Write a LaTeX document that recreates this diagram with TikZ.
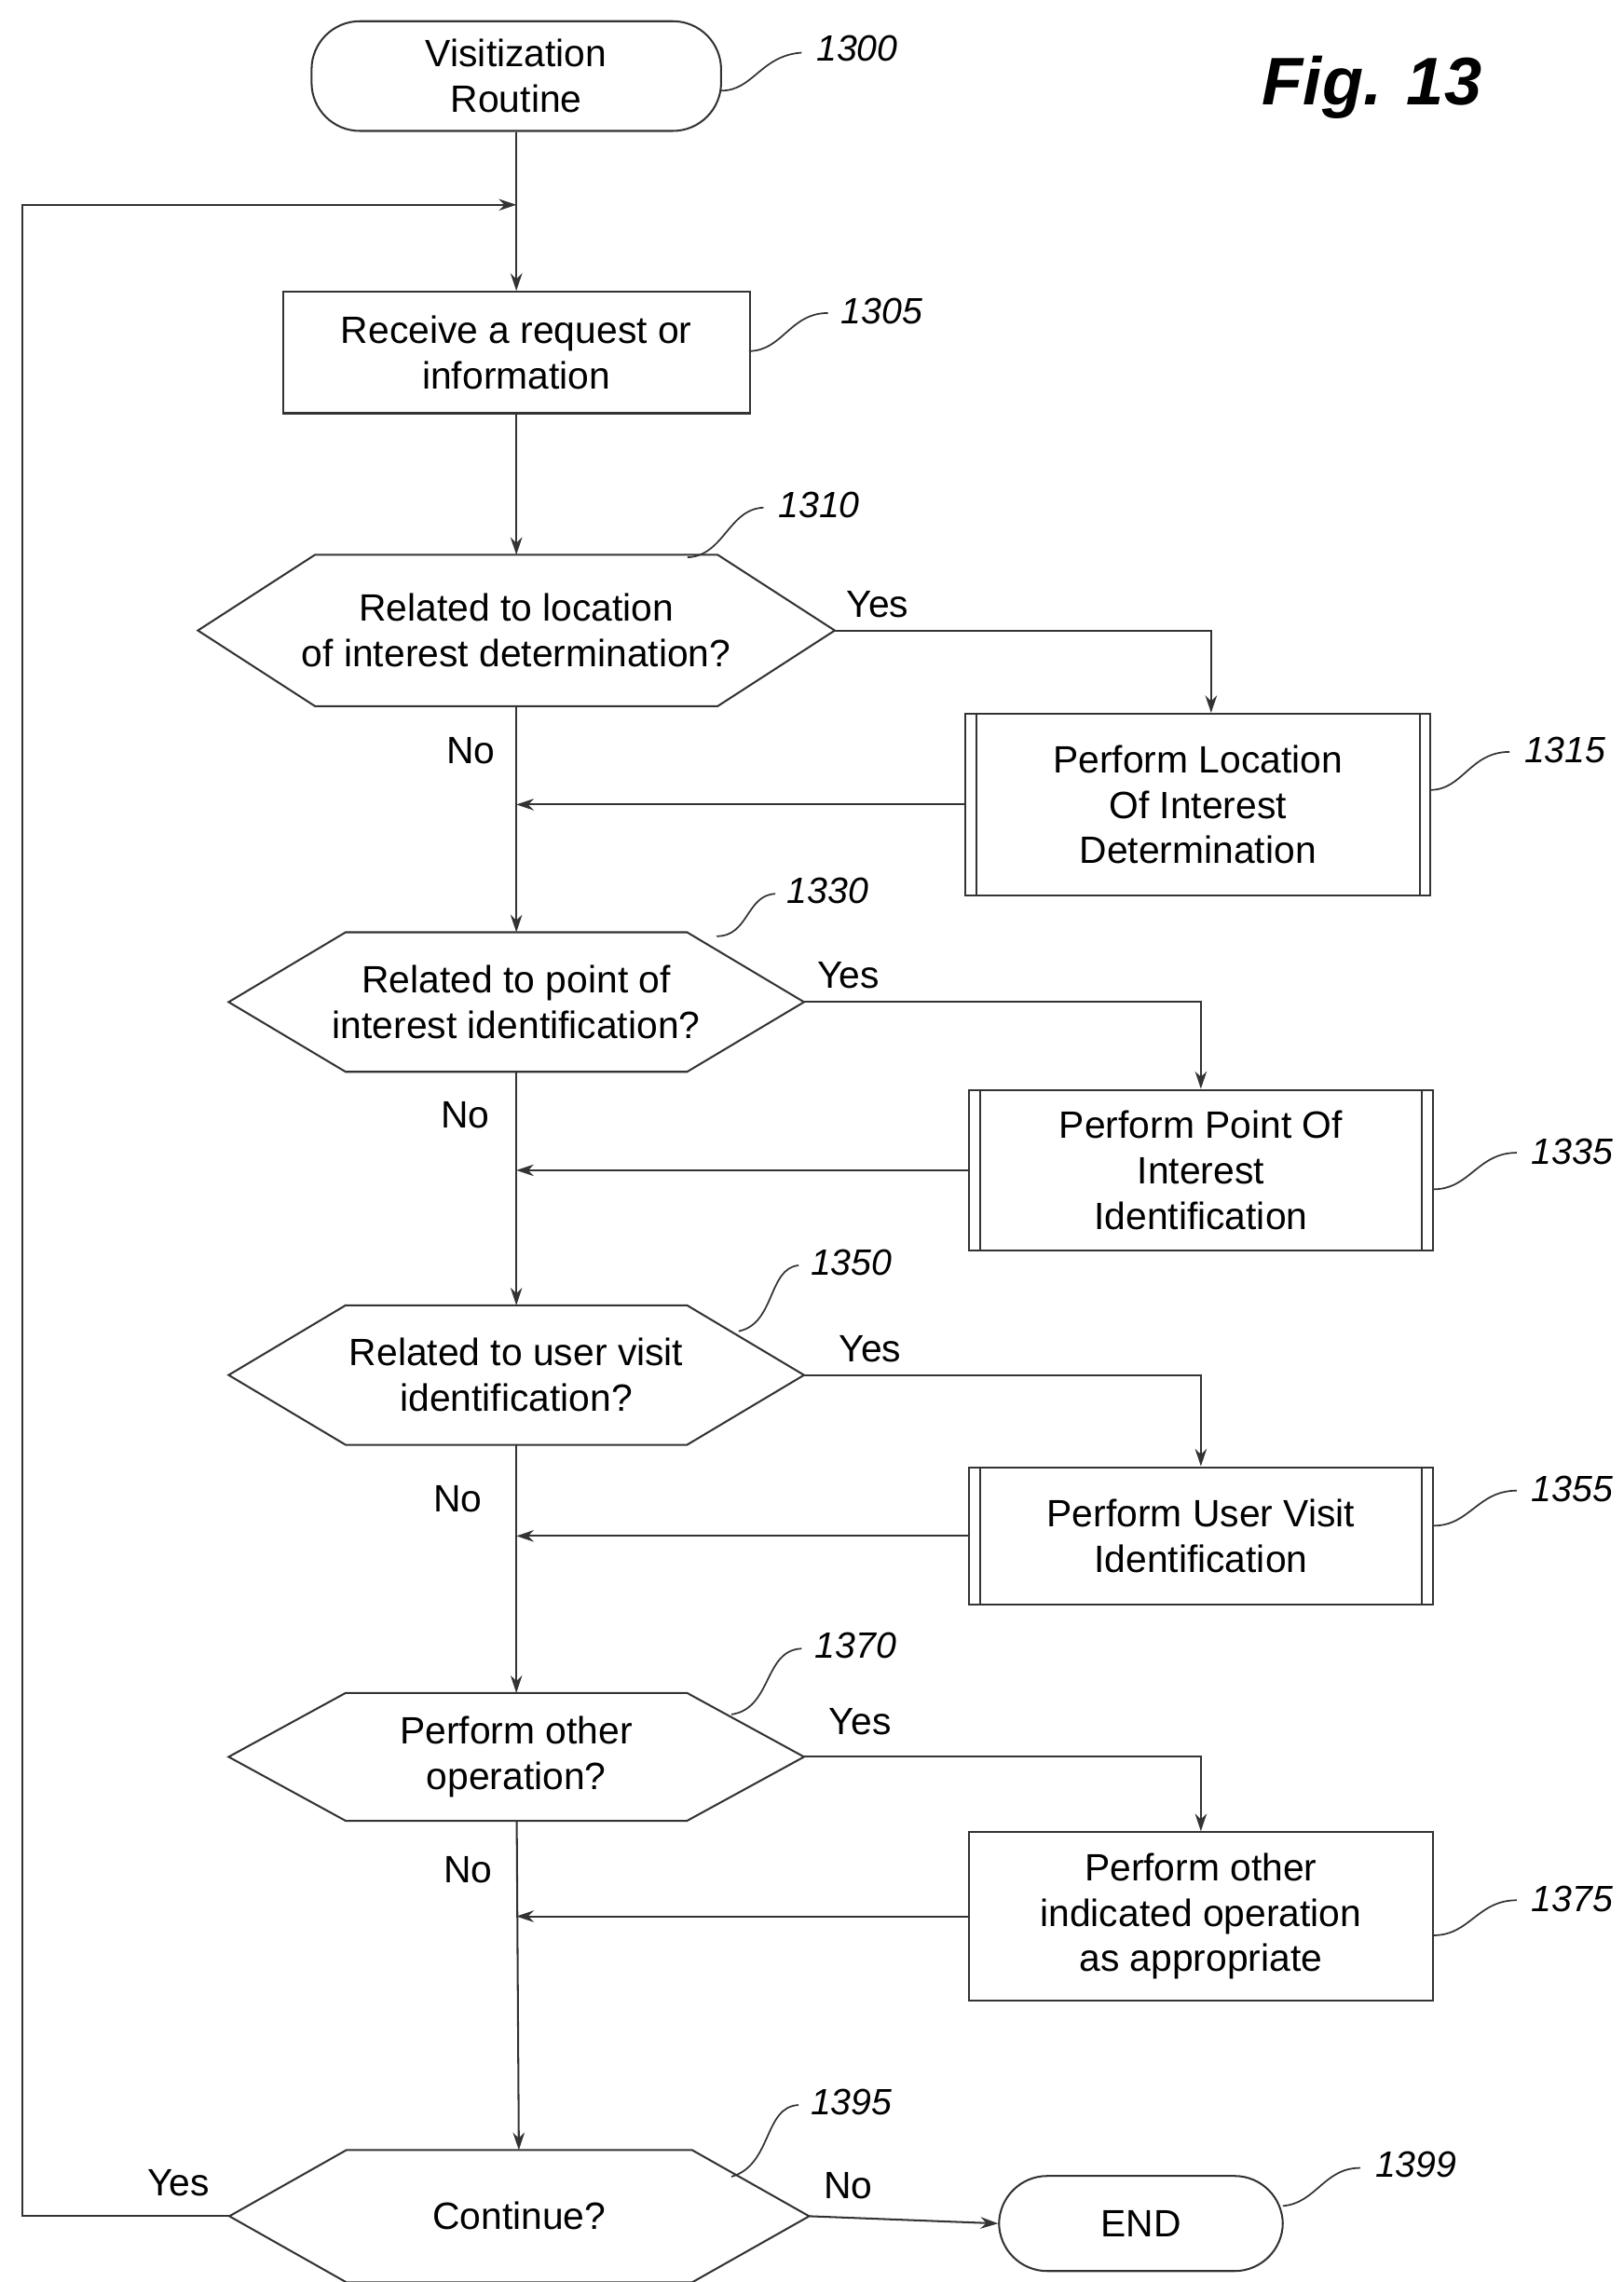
\documentclass[tikz,border=0pt]{standalone}
\usepackage{fontspec}
\setmainfont{Liberation Sans}
\usetikzlibrary{arrows.meta,positioning}
\newcommand{\myhex}[1]{\draw[ln] (#1.west) -- ([xshift=80pt]#1.north west) -- ([xshift=-80pt]#1.north east) -- (#1.east) -- ([xshift=-80pt]#1.south east) -- ([xshift=80pt]#1.south west) -- cycle;}
\newcommand{\mypp}[1]{\draw[ln] ([xshift=8pt]#1.north west) -- ([xshift=8pt]#1.south west) ([xshift=-8pt]#1.north east) -- ([xshift=-8pt]#1.south east);}
\begin{document}
\begin{tikzpicture}[x=1pt,y=-1pt,
  ln/.style={draw=black!80,line width=1.3pt},
  txt/.style={font=\fontsize{26}{31}\selectfont,align=center},
  box/.style={ln,txt,rectangle,inner sep=0pt},
  term/.style={ln,txt,rounded corners=33pt,inner sep=0pt},
  hx/.style={txt,inner sep=0pt},
  ref/.style={font=\fontsize{25}{30}\selectfont\itshape},
  lab/.style={font=\fontsize{26}{31}\selectfont},
  arr/.style={ln,-{Stealth[length=12pt,width=8pt]}},
  sq/.style={ln,line width=1.1pt}]
\useasboundingbox (0,0) rectangle (1110,1560);
\node[term,minimum width=280pt,minimum height=75pt] (s) at (353,52) {Visitization\\Routine};
\node[box,minimum width=319pt,minimum height=83pt] (b1305) at (353,241) {Receive a request or\\information};
\node[hx,minimum width=435pt,minimum height=103pt] (d1310) at (353,431) {Related to location\\of interest determination?};
\myhex{d1310}
\node[box,minimum width=318pt,minimum height=124pt] (b1315) at (819,550) {Perform Location\\Of Interest\\Determination};
\mypp{b1315}
\node[hx,minimum width=393pt,minimum height=95pt] (d1330) at (353,685) {Related to point of\\interest identification?};
\myhex{d1330}
\node[box,minimum width=317pt,minimum height=110pt] (b1335) at (821,800) {Perform Point Of\\Interest\\Identification};
\mypp{b1335}
\node[hx,minimum width=393pt,minimum height=95pt] (d1350) at (353,940) {Related to user visit\\identification?};
\myhex{d1350}
\node[box,minimum width=317pt,minimum height=94pt] (b1355) at (821,1050) {Perform User Visit\\Identification};
\mypp{b1355}
\node[hx,minimum width=393pt,minimum height=87pt] (d1370) at (353,1201) {Perform other\\operation?};
\myhex{d1370}
\node[box,minimum width=317pt,minimum height=115pt] (b1375) at (821,1310) {Perform other\\indicated operation\\as appropriate};
\node[hx,minimum width=396pt,minimum height=90pt] (d1395) at (355,1515) {Continue?};
\myhex{d1395}
\node[term,minimum width=194pt,minimum height=65pt] (e) at (780,1520) {END};
\node[font=\fontsize{46}{50}\selectfont\bfseries\itshape] (fig) at (938,60) {Fig. 13};
% flow
\coordinate (top) at (353,140);
\draw[arr] (s) -- (b1305);
\draw[arr] (b1305) -- (d1310);
\draw[arr] (d1310) -- (d1330);
\draw[arr] (d1330) -- (d1350);
\draw[arr] (d1350) -- (d1370);
\draw[arr] (d1370) -- (d1395);
\draw[arr] (d1310.east) -| (b1315.north -| 828,0);
\draw[arr] (d1330.east) -| (b1335.north);
\draw[arr] (d1350.east) -| (b1355.north);
\draw[arr] (d1370.east) -| (b1375.north);
\draw[arr] (b1315.west) -- (b1315.west -| d1310.south);
\draw[arr] (b1335.west) -- (b1335.west -| d1330.south);
\draw[arr] (b1355.west) -- (b1355.west -| d1350.south);
\draw[arr] (b1375.west) -- (b1375.west -| d1370.south);
\draw[arr] (d1395.east) -- (e.west);
\draw[arr] (d1395.west) -- (15,1515) -- (15,140) -- (top);
% labels
\node[lab] at (600,413) {Yes};
\node[lab] at (322,513) {No};
\node[lab] at (580,667) {Yes};
\node[lab] at (318,762) {No};
\node[lab] at (595,922) {Yes};
\node[lab] at (313,1025) {No};
\node[lab] at (588,1177) {Yes};
\node[lab] at (320,1278) {No};
\node[lab] at (122,1492) {Yes};
\node[lab] at (580,1494) {No};
% refs
\node[ref] (r1300) at (586,33) {1300};
\draw[sq] (493,62) .. controls (515,62) and (520,38) .. (548,36);
\node[ref] (r1305) at (603,213) {1305};
\draw[sq] (512,240) .. controls (535,240) and (540,214) .. (566,214);
\node[ref] (r1310) at (560,345) {1310};
\draw[sq] (470,381) .. controls (495,380) and (498,348) .. (522,347);
\node[ref] (r1315) at (1070,513) {1315};
\draw[sq] (978,540) .. controls (1000,540) and (1005,514) .. (1032,514);
\node[ref] (r1330) at (566,609) {1330};
\draw[sq] (490,640) .. controls (512,640) and (510,612) .. (530,611);
\node[ref] (r1335) at (1075,787) {1335};
\draw[sq] (980,813) .. controls (1005,813) and (1010,788) .. (1037,788);
\node[ref] (r1350) at (582,863) {1350};
\draw[sq] (505,910) .. controls (530,905) and (525,867) .. (546,865);
\node[ref] (r1355) at (1075,1018) {1355};
\draw[sq] (980,1043) .. controls (1005,1043) and (1010,1019) .. (1037,1019);
\node[ref] (r1370) at (585,1125) {1370};
\draw[sq] (500,1172) .. controls (528,1168) and (522,1128) .. (548,1127);
\node[ref] (r1375) at (1075,1298) {1375};
\draw[sq] (980,1323) .. controls (1005,1323) and (1010,1299) .. (1037,1299);
\node[ref] (r1395) at (582,1437) {1395};
\draw[sq] (500,1488) .. controls (528,1480) and (522,1440) .. (546,1439);
\node[ref] (r1399) at (968,1480) {1399};
\draw[sq] (877,1508) .. controls (900,1506) and (905,1482) .. (930,1482);
\end{tikzpicture}
\end{document}
